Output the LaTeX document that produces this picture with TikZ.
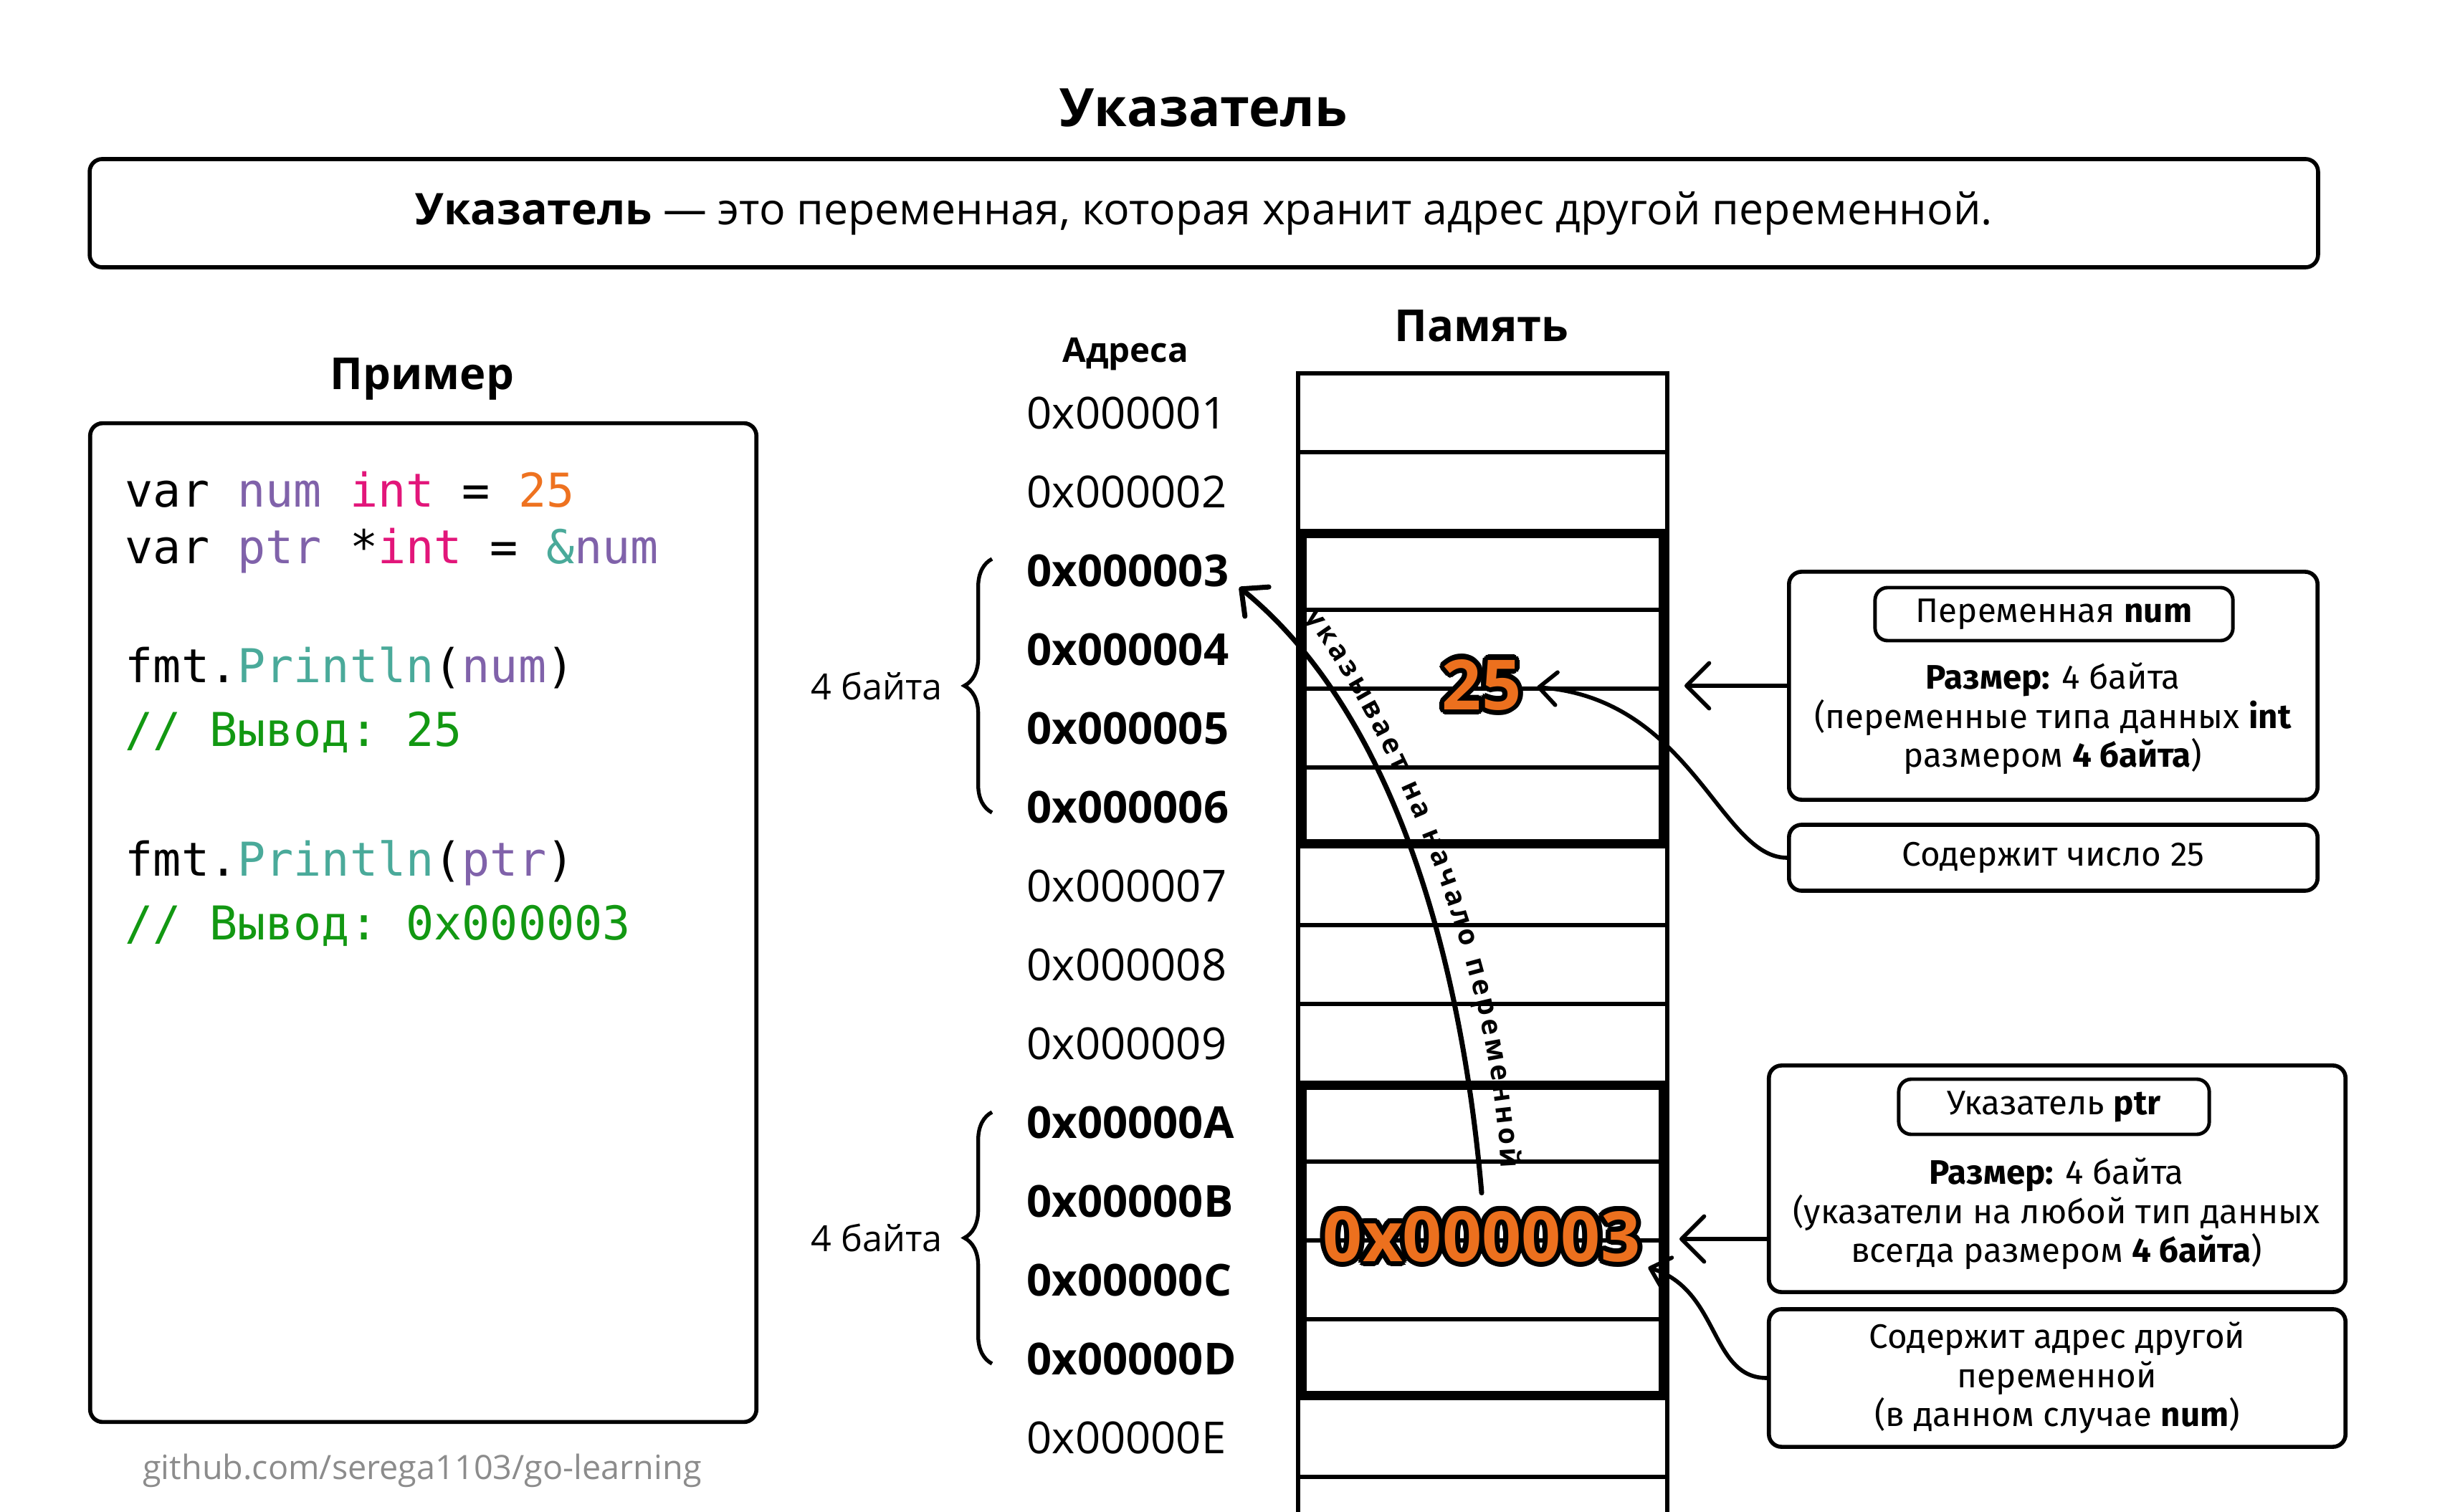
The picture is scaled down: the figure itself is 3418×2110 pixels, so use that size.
\documentclass[tikz,border=0pt]{standalone}
\usepackage{fontspec}
\setmainfont{Open Sans}
\setmonofont{DejaVu Sans Mono}
\newfontfamily\notefont{Fira Sans}
\usepackage{xcolor}
\usepackage[copies]{contour}
\contourlength{2pt}
\contournumber{16}
\usepackage{tikz}
\usetikzlibrary{arrows.meta,positioning,decorations.pathreplacing,decorations.text}
\definecolor{codepurple}{RGB}{128,98,170}
\definecolor{codepink}{RGB}{226,22,122}
\definecolor{codeorange}{RGB}{238,114,32}
\definecolor{codeteal}{RGB}{74,170,154}
\definecolor{codegreen}{RGB}{18,152,18}
\definecolor{valorange}{RGB}{236,112,30}
\definecolor{gitgray}{RGB}{140,140,140}
\tikzset{
  frame/.style   ={draw, line width=1.6pt, rounded corners=5pt, inner sep=0pt},
  tagbox/.style  ={draw, line width=1.4pt, rounded corners=5pt, inner sep=0pt, font=\notefont\fontsize{13.5}{15.5}\selectfont},
  notetext/.style={align=center, font=\notefont\fontsize{13.5}{15.5}\selectfont},
  addr/.style    ={anchor=west, inner sep=0pt, font=\fontsize{17.5}{20}\selectfont, text height=13pt, text depth=0pt},
  codeline/.style={anchor=west, inner sep=0pt, font=\ttfamily\fontsize{18.5}{22}\selectfont, text height=14pt, text depth=4pt},
  head/.style    ={font=\bfseries\fontsize{17.5}{20}\selectfont},
  memline/.style ={line width=1.7pt},
  grp/.style     ={line width=2.8pt},
  val/.style     ={inner sep=0pt, text=valorange, font=\bfseries\fontsize{27.5}{32}\selectfont},
  arr/.style     ={-{Straight Barb[length=9pt, width=18pt, round]}, line width=1.6pt, line cap=round},
  arrc/.style    ={-{Straight Barb[length=7pt, width=13pt, round]}, line width=1.6pt, line cap=round},
  parr/.style    ={-{Straight Barb[length=8pt, width=15pt, round]}, line width=2pt, line cap=round},
  brc/.style     ={decorate, decoration={brace, amplitude=11pt}, line width=1.5pt},
}
\begin{document}
\begin{tikzpicture}[x=0.01cm, y=-0.01cm]
  \fill[white] (0,0) rectangle (3418,2110);
  \useasboundingbox (0,0) rectangle (3418,2110);

  \node[font=\bfseries\fontsize{21}{24}\selectfont] (title) at (1679,151) {Указатель};
  \node[frame, minimum width=31.07cm, minimum height=1.51cm, font=\fontsize{17.3}{20}\selectfont] (defbox) at (1679.5,297.5)
    {\textbf{Указатель} — это переменная, которая хранит адрес другой переменной.};

  % code example
  \node[head] (exhead) at (589,529) {Пример};
  \node[frame, minimum width=9.29cm, minimum height=13.93cm] (codebox) at (590.5,1287.5) {};
  \node[codeline] (c1) at (174,690) {var \textcolor{codepurple}{num} \textcolor{codepink}{int} = \textcolor{codeorange}{25}};
  \node[codeline] (c2) at (174,769) {var \textcolor{codepurple}{ptr} *\textcolor{codepink}{int} = \textcolor{codeteal}{\&}\textcolor{codepurple}{num}};
  \node[codeline] (c3) at (174,935) {fmt.\textcolor{codeteal}{Println}(\textcolor{codepurple}{num})};
  \node[codeline, text=codegreen] (c4) at (174,1024) {// Вывод: 25};
  \node[codeline] (c5) at (174,1205) {fmt.\textcolor{codeteal}{Println}(\textcolor{codepurple}{ptr})};
  \node[codeline, text=codegreen] (c6) at (174,1294) {// Вывод: 0x000003};
  \node[font=\fontsize{13.3}{15}\selectfont, text=gitgray] (src) at (589,2052) {github.com/serega1103/go-learning};

  % memory column
  \node[head] (memhead) at (2067,455) {Память};
  \node[font=\bfseries\fontsize{13.5}{16}\selectfont] (addrhead) at (1570,494) {Адреса};
  \draw[memline] (1811,2115) -- (1811,521) -- (2326,521) -- (2326,2115);
  \foreach \k in {1,...,14}
    \draw[memline] (1811,{521+110*\k}) -- (2326,{521+110*\k});
  \draw[grp] (1818,746) rectangle (2319,1176);
  \draw[grp] (1818,1516) rectangle (2319,1946);
  \foreach \lbl/\k/\w in {0x000001/1/\mdseries, 0x000002/2/\mdseries, 0x000003/3/\bfseries, 0x000004/4/\bfseries,
      0x000005/5/\bfseries, 0x000006/6/\bfseries, 0x000007/7/\mdseries, 0x000008/8/\mdseries, 0x000009/9/\mdseries,
      0x00000A/10/\bfseries, 0x00000B/11/\bfseries, 0x00000C/12/\bfseries, 0x00000D/13/\bfseries, 0x00000E/14/\mdseries}
    \node[addr] (a\k) at (1432,{466+110*\k}) {\w\lbl};
  \draw[brc] (1384,1134) -- (1384,780) node[midway, left=19pt, inner sep=0pt, font=\fontsize{14.3}{16}\selectfont] (b1) {4 байта};
  \draw[brc] (1384,1903) -- (1384,1552) node[midway, left=19pt, inner sep=0pt, font=\fontsize{14.3}{16}\selectfont] (b2) {4 байта};

  \node[val] (numval) at (2067,959) {\contour{black}{25}};
  \node[val] (ptrval) at (2067,1729) {\contour{black}{0x000003}};

  % pointer arrow
  \draw[parr] ([yshift=7pt]ptrval.north) .. controls (2040,1350) and (1950,1000) .. ([xshift=4pt]a3.south east);
  \path[decorate, decoration={text along path, text align={fit to path},
      text={|\bfseries\fontsize{11}{13}\selectfont|указывает на начало переменной}}]
    (1819,862) .. controls (1900,960) and (2080,1300) .. (2094,1630);

  % notes
  \node[frame, minimum width=7.37cm, minimum height=3.18cm] (numbox) at (2864.5,957) {};
  \node[tagbox, minimum width=4.99cm, minimum height=0.74cm] (numtag) at (2865.5,857) {Переменная \textbf{num}};
  \node[notetext] (numtext) at (2864,1003) {\textbf{Размер:} 4 байта\\(переменные типа данных \textbf{int}\\размером \textbf{4 байта})};
  \node[frame, notetext, minimum width=7.37cm, minimum height=0.92cm] (numcont) at (2864.5,1197) {Содержит число 25};

  \node[frame, minimum width=8.04cm, minimum height=3.16cm] (ptrbox) at (2870,1645) {};
  \node[tagbox, minimum width=4.33cm, minimum height=0.77cm] (ptrtag) at (2865.5,1544.5) {Указатель \textbf{ptr}};
  \node[notetext] (ptrtext) at (2869,1694) {\textbf{Размер:} 4 байта\\(указатели на любой тип данных\\всегда размером \textbf{4 байта})};
  \node[frame, notetext, minimum width=8.04cm, minimum height=1.92cm] (ptrcont) at (2870,1923) {Содержит адрес другой\\переменной\\(в данном случае \textbf{num})};

  \coordinate (numtip) at (2350,957);
  \coordinate (ptrtip) at (2343,1729);
  \draw[arr] (numtip -| numbox.west) -- (numtip);
  \draw[arr] (ptrtip -| ptrbox.west) -- (ptrtip);
  \draw[arrc] (numcont.west) .. controls (2400,1197) and (2360,975) .. ([xshift=6pt]numval.east);
  \draw[arrc] (ptrcont.west) .. controls (2385,1923) and (2400,1800) .. ([xshift=3pt]ptrval.south east);
\end{tikzpicture}
\end{document}
